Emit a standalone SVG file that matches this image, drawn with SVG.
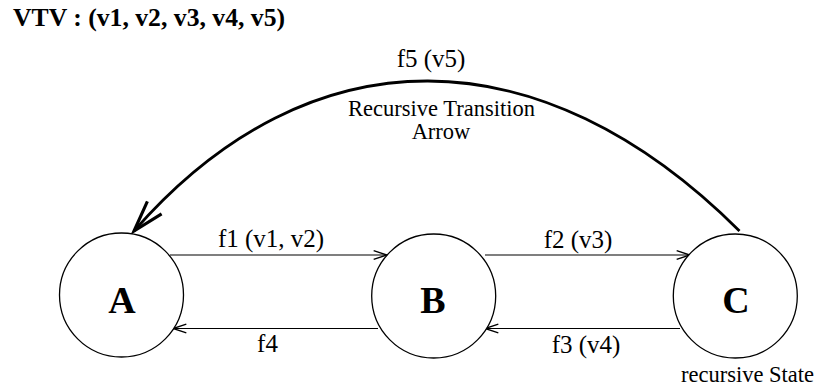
<svg xmlns="http://www.w3.org/2000/svg" width="817" height="391" viewBox="0 0 817 391">
<style>
text{font-family:"Liberation Serif","Times New Roman",serif;fill:#000}
.lbl{font-size:25px;text-anchor:middle}
.sm{font-size:22.5px;text-anchor:middle}
.node circle{fill:#fff;stroke:#000;stroke-width:1.3}
.node text{font-size:38px;font-weight:bold;text-anchor:middle}
.thin{fill:none;stroke:#000;stroke-width:1.2}
.thick{fill:none;stroke:#000;stroke-width:2.8}
</style>
<defs>
<marker id="ah" markerUnits="userSpaceOnUse" markerWidth="20" markerHeight="20" viewBox="-15 -8 18 16" refX="0" refY="0" orient="auto">
<path d="M-12,-4 L0,0 L-12,4" fill="none" stroke="#000" stroke-width="1.2"/>
</marker>
<marker id="bh" markerUnits="userSpaceOnUse" markerWidth="40" markerHeight="40" viewBox="-32 -14 36 28" refX="0" refY="0" orient="auto">
<path d="M-28,-8.5 L0,0 L-28,8.5" fill="none" stroke="#000" stroke-width="2.8"/>
</marker>
</defs>
<text x="13" y="26" style="font-size:25.7px;font-weight:bold">VTV : (v1, v2, v3, v4, v5)</text>
<g id="connectors">
<path class="thin" d="M170,255 H387" marker-end="url(#ah)"/>
<path class="thin" d="M378,328.5 H173" marker-end="url(#ah)"/>
<path class="thin" d="M485,255 H690" marker-end="url(#ah)"/>
<path class="thin" d="M680,328.5 H485" marker-end="url(#ah)"/>
<path class="thick" d="M739.5,231 C540,32 310,30 134,231" marker-end="url(#bh)"/>
<text class="lbl" x="271" y="247">f1 (v1, v2)</text>
<text class="lbl" x="267.5" y="352">f4</text>
<text class="lbl" x="578" y="248">f2 (v3)</text>
<text class="lbl" x="586" y="353">f3 (v4)</text>
<text class="lbl" x="431" y="67">f5 (v5)</text>
<text class="sm" x="441.5" y="116">Recursive Transition</text>
<text class="sm" x="441" y="139">Arrow</text>
</g>
<g id="A" class="node"><circle cx="121.5" cy="295" r="62"/><text x="122" y="313">A</text></g>
<g id="B" class="node"><circle cx="433.7" cy="296" r="62"/><text x="433" y="313">B</text></g>
<g id="C" class="node"><circle cx="735.3" cy="296" r="62"/><text x="736" y="313">C</text><text class="sm" x="747.5" y="382" style="font-weight:normal;font-size:22.5px">recursive State</text></g>
</svg>
